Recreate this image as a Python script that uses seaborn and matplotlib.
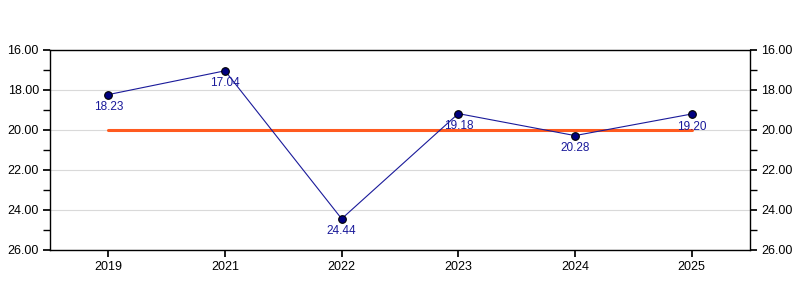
import matplotlib
matplotlib.use("Agg")
import matplotlib.pyplot as plt
from matplotlib.ticker import MultipleLocator, FormatStrFormatter
import seaborn as sns
import pandas as pd

years = ["2019", "2021", "2022", "2023", "2024", "2025"]
values = [18.23, 17.04, 24.44, 19.18, 20.28, 19.20]
target = 20.0

sns.set_theme(style="white")
plt.rcParams["font.family"] = ["Liberation Sans", "DejaVu Sans"]

df = pd.DataFrame({"idx": range(len(years)), "year": years, "value": values})

fig = plt.figure(figsize=(8, 3), dpi=100)
ax = fig.add_axes([0.0625, 1/6, 0.875, 2/3])

ax.set_ylim(26, 16)
ax.set_xlim(-0.5, len(years) - 0.5)

ax.yaxis.set_major_locator(MultipleLocator(2))
ax.yaxis.set_minor_locator(MultipleLocator(1))
ax.yaxis.set_major_formatter(FormatStrFormatter("%.2f"))
ax.grid(axis="y", which="major", color="#d9d9d9", linewidth=0.8)
ax.set_axisbelow(True)

# target line
ax.plot([0, len(years) - 1], [target, target], color="#ff5a1f", linewidth=2.2, zorder=2)

sns.lineplot(data=df, x="idx", y="value", ax=ax, color="#1a1a9a", linewidth=0.8,
             marker="o", markersize=5.5, markerfacecolor="#000080",
             markeredgecolor="#000000", markeredgewidth=0.8, zorder=3)

for i, v in enumerate(values):
    ax.annotate(f"{v:.2f}", (i, v), xytext=(0, -9), textcoords="offset points",
                ha="center", va="center", fontsize=8.5, color="#1a1a9a", zorder=4)

ax.set_xticks(range(len(years)))
ax.set_xticklabels(years)
ax.set_xlabel("")
ax.set_ylabel("")

for s in ["left", "right", "bottom", "top"]:
    ax.spines[s].set_visible(True)
    ax.spines[s].set_color("black")
    ax.spines[s].set_linewidth(1)

ax.tick_params(axis="both", which="both", direction="out", color="black",
               labelsize=9, labelcolor="black")
ax.tick_params(axis="y", which="major", length=5, left=True, right=True,
               labelleft=True, labelright=True, pad=3)
ax.tick_params(axis="y", which="minor", length=5, left=True, right=True)
ax.tick_params(axis="x", which="major", length=5, bottom=True, pad=3)

fig.savefig("out.png", dpi=100)
